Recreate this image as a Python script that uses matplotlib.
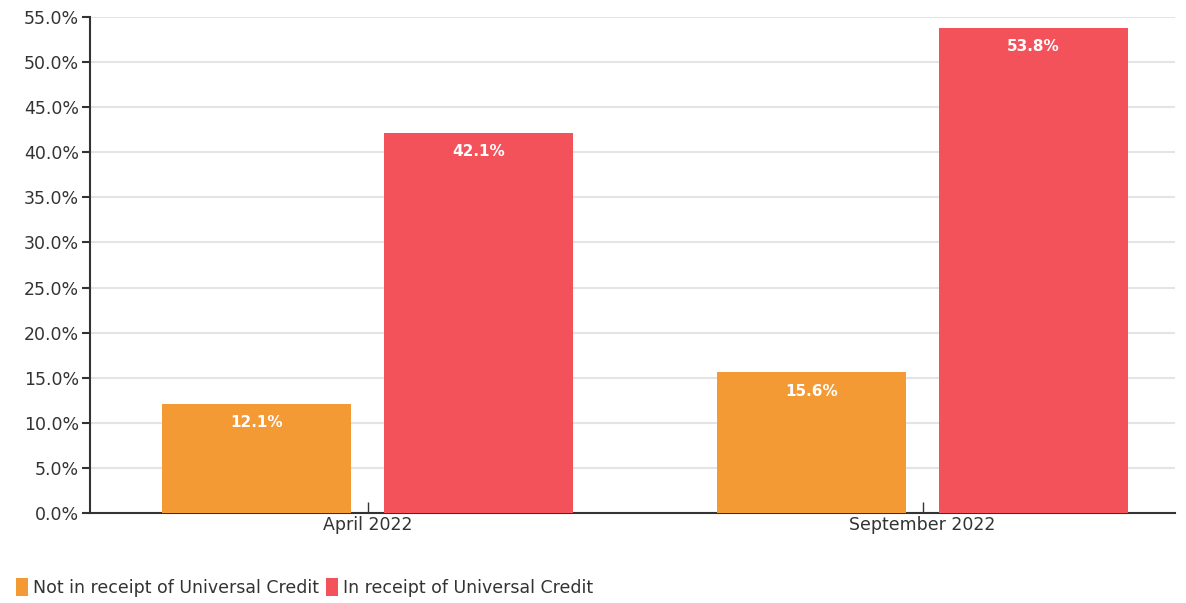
import numpy as np
import matplotlib.pyplot as plt
from matplotlib.patches import Patch

periods = ["April 2022", "September 2022"]
not_uc = [12.1, 15.6]
in_uc = [42.1, 53.8]
series_names = ["Not in receipt of Universal Credit", "In receipt of Universal Credit"]
colors = ["#F39A35", "#F4525A"]

plt.rcParams["font.family"] = ["DejaVu Sans"]

fig = plt.figure(figsize=(11.86, 6.03), dpi=100)
ax = fig.add_axes([0.0759, 0.149, 0.915, 0.823])

x = np.arange(len(periods))
w = 0.34
for vals, off, c in [(not_uc, -0.2, colors[0]), (in_uc, 0.2, colors[1])]:
    bars = ax.bar(x + off, vals, width=w, color=c, zorder=3)
    for b, v in zip(bars, vals):
        ax.annotate(f"{v:.1f}%", (b.get_x() + b.get_width() / 2, v),
                    xytext=(0, -8), textcoords="offset points",
                    ha="center", va="top", color="white",
                    fontsize=11, fontweight="bold", zorder=4)

ax.set_xlim(-0.5, 1.455)
ax.set_ylim(0, 55)
ax.set_yticks(np.arange(0, 56, 5))
ax.set_yticklabels([f"{t:.1f}%" for t in np.arange(0, 56, 5)])
ax.set_xticks(x)
ax.set_xticklabels(periods)

ax.grid(axis="y", color="#e4e4e4", linewidth=1.5, zorder=0)
for s in ["top", "right"]:
    ax.spines[s].set_visible(False)
for s in ["left", "bottom"]:
    ax.spines[s].set_color("#333333")
    ax.spines[s].set_linewidth(1.5)
ax.tick_params(axis="y", length=6, width=1.5, color="#333333", labelsize=12.5, labelcolor="#333333", pad=2)
ax.tick_params(axis="x", direction="in", length=8, width=1, color="#333333", labelsize=12.5, labelcolor="#333333", pad=2)

handles = [Patch(facecolor=c, edgecolor="none") for c in colors]
fig.legend(handles, series_names, loc="lower left", bbox_to_anchor=(0.0, -0.016),
           ncol=2, frameon=False, fontsize=12.5, handlelength=0.7, handleheight=1.2,
           handletextpad=0.3, columnspacing=0.4, labelcolor="#333333")

fig.savefig("out.png", dpi=100)
